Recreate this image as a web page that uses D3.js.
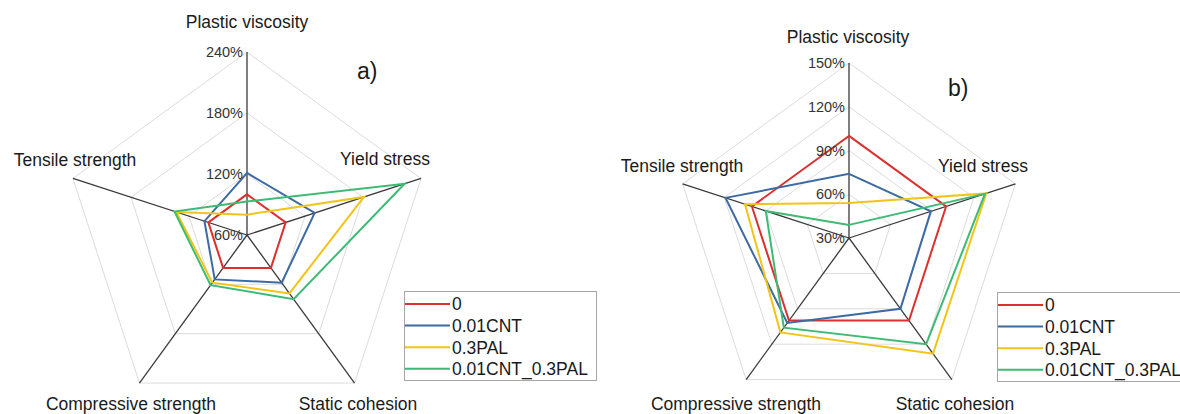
<!DOCTYPE html>
<html>
<head>
<meta charset="utf-8">
<script src="https://cdn.jsdelivr.net/npm/d3@7"></script>
<style>
  html, body { margin: 0; padding: 0; background: #fff; }
  svg { display: block; font-family: "Liberation Sans", Arial, sans-serif; }
</style>
</head>
<body>
<svg id="chart" width="1180" height="414"></svg>
<script>
// ---- Data ----
const axes = ["Plastic viscosity", "Yield stress", "Static cohesion", "Compressive strength", "Tensile strength"];
const seriesNames = ["0", "0.01CNT", "0.3PAL", "0.01CNT_0.3PAL"];

// Panel a) values (%)
const a_ref      = [100, 100, 100, 100, 100];
const a_cnt      = [121, 130, 118, 114, 104];
const a_pal      = [80, 181, 131, 118, 133];
const a_cnt_pal  = [93, 223, 138, 121, 135];
const a_ticks    = [60, 120, 180, 240];

// Panel b) values (%)
const b_ref      = [100, 100, 100, 100, 100];
const b_cnt      = [74, 89, 90, 102, 119];
const b_pal      = [54, 129, 128, 110, 105];
const b_cnt_pal  = [39, 128, 120, 106, 90];
const b_ticks    = [30, 60, 90, 120, 150];

// ---- Styles ----
const colors = ["#dc2f2f", "#3d6aa3", "#f2c418", "#3dbb74"];
const svg = d3.select("#chart");

function drawRadar(cfg) {
  const g = svg.append("g").attr("transform", `translate(${cfg.cx},${cfg.cy})`);
  const n = axes.length;
  const ang = i => i * 2 * Math.PI / n;
  const r = d3.scaleLinear().domain(d3.extent(cfg.ticks)).range([0, cfg.R]);

  // grid pentagons
  const gridLine = d3.lineRadial().angle((d, i) => ang(i)).radius(d => r(d)).curve(d3.curveLinearClosed);
  cfg.ticks.slice(1).forEach(t => {
    g.append("path").attr("d", gridLine(axes.map(() => t)))
      .attr("fill", "none").attr("stroke", "#dcdcdc").attr("stroke-width", 1);
  });

  // spokes
  axes.forEach((a, i) => {
    const rr = r(cfg.ticks[cfg.ticks.length - 1]);
    g.append("line")
      .attr("x1", 0).attr("y1", 0)
      .attr("x2", rr * Math.sin(ang(i))).attr("y2", -rr * Math.cos(ang(i)))
      .attr("stroke", "#3a3a3a").attr("stroke-width", 1.3);
  });

  // series
  const line = d3.lineRadial().angle((d, i) => ang(i)).radius(d => r(d)).curve(d3.curveLinearClosed);
  cfg.series.forEach((vals, si) => {
    g.append("path").attr("d", line(vals))
      .attr("fill", "none").attr("stroke", colors[si]).attr("stroke-width", 2)
      .attr("stroke-linejoin", "miter");
  });

  // tick labels
  cfg.ticks.forEach(t => {
    g.append("text").attr("x", -4).attr("y", -r(t)).attr("dy", "0.35em")
      .attr("text-anchor", "end").attr("font-size", 14.5).attr("fill", "#333")
      .text(t + "%");
  });

  // axis labels
  axes.forEach((a, i) => {
    svg.append("text").attr("x", cfg.labels[i][0]).attr("y", cfg.labels[i][1])
      .attr("text-anchor", "middle").attr("font-size", 17.5).attr("fill", "#1a1a1a")
      .text(a);
  });

  // panel tag
  svg.append("text").attr("x", cfg.tag[0]).attr("y", cfg.tag[1])
    .attr("font-size", 23).attr("fill", "#1a1a1a").text(cfg.tagText);

  // legend
  const lg = svg.append("g").attr("transform", `translate(${cfg.legend[0]},${cfg.legend[1]})`);
  lg.append("rect").attr("x", 0.5).attr("y", 0.5).attr("width", 192).attr("height", 89)
    .attr("fill", "#fff").attr("stroke", "#a6a6a6").attr("stroke-width", 1);
  seriesNames.forEach((s, i) => {
    const y = 13 + i * 21.6;
    lg.append("line").attr("x1", 1).attr("x2", 46).attr("y1", y).attr("y2", y)
      .attr("stroke", colors[i]).attr("stroke-width", 2);
    lg.append("text").attr("x", 48).attr("y", y).attr("dy", "0.36em")
      .attr("font-size", 17.5).attr("fill", "#1a1a1a").text(s);
  });
}

drawRadar({
  cx: 247, cy: 235, R: 183, ticks: a_ticks,
  series: [a_ref, a_cnt, a_pal, a_cnt_pal],
  labels: [[247, 28], [385, 165], [358, 410], [131, 410], [75, 166]],
  tag: [357, 79], tagText: "a)",
  legend: [404, 291]
});

drawRadar({
  cx: 849, cy: 238, R: 175, ticks: b_ticks,
  series: [b_ref, b_cnt, b_pal, b_cnt_pal],
  labels: [[848, 43], [983, 172], [955, 410], [736, 410], [682, 172]],
  tag: [948, 96], tagText: "b)",
  legend: [997, 292]
});
</script>
</body>
</html>
